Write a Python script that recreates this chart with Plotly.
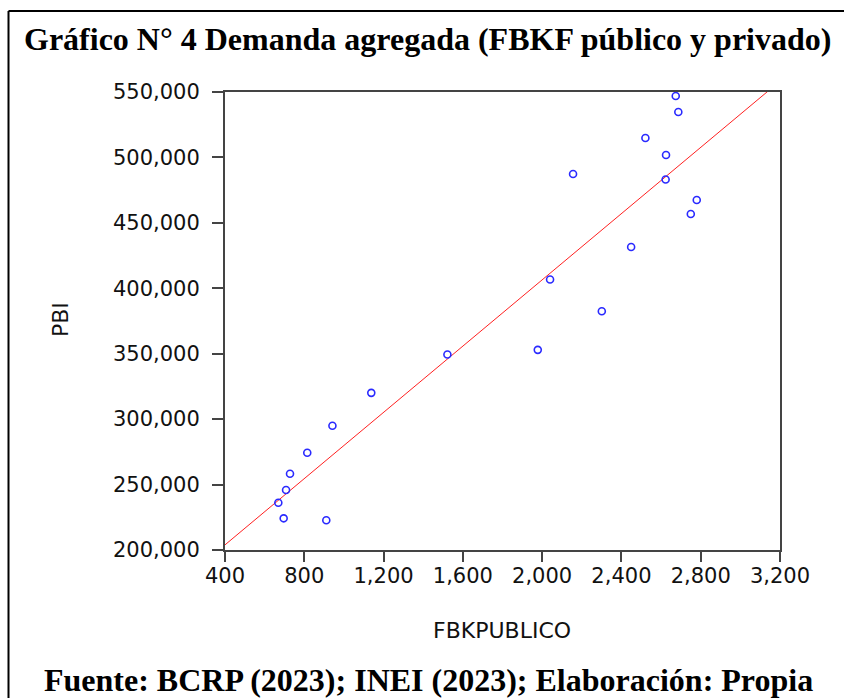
import numpy as np
import plotly.graph_objects as go

# Data
fbk_publico = [2674, 2687, 2521, 2625, 2156, 2623, 2780, 2750, 2449, 2040, 2301,
               1978, 1522, 1138, 942, 815, 728, 708, 669, 696, 911]
pbi = [546900, 534700, 514800, 501900, 487300, 483100, 467500, 456800, 431600,
       406700, 382500, 352950, 349400, 320100, 294900, 274300, 258300, 245800,
       236100, 224200, 222700]

x_ticks = [400, 800, 1200, 1600, 2000, 2400, 2800, 3200]
x_ticklabels = ["400", "800", "1,200", "1,600", "2,000", "2,400", "2,800", "3,200"]
y_ticks = [200000, 250000, 300000, 350000, 400000, 450000, 500000, 550000]
y_ticklabels = ["200,000", "250,000", "300,000", "350,000", "400,000",
                "450,000", "500,000", "550,000"]

title_text = "Gráfico N° 4 Demanda agregada (FBKF público y privado)"
source_text = "Fuente: BCRP (2023); INEI (2023); Elaboración: Propia"

# Regression line
slope, intercept = np.polyfit(fbk_publico, pbi, 1)
fit_x = [x_ticks[0], x_ticks[-1]]
fit_y = [intercept + slope * v for v in fit_x]

W, H = 844, 698
L, R, T, B = 225, 64, 92, 148
pw, ph = W - L - R, H - T - B

def px(xp):
    return (xp - L) / pw

def py(yp):
    return (H - B - yp) / ph

fig = go.Figure()
fig.add_trace(go.Scatter(x=fit_x, y=fit_y, mode="lines",
                         line=dict(color="#ff2020", width=1),
                         hoverinfo="skip", showlegend=False))
fig.add_trace(go.Scatter(x=fbk_publico, y=pbi, mode="markers",
                         marker=dict(symbol="circle-open", size=7,
                                     color="#2a2aff", line=dict(width=1.6)),
                         showlegend=False))

sans = "DejaVu Sans, Arial, sans-serif"
tick_font = dict(family=sans, size=21, color="#111111")
serif_bold = dict(family="Liberation Serif, Times New Roman, serif", size=32,
                  color="#000000", weight="bold")

fig.update_layout(
    width=W, height=H,
    margin=dict(l=L, r=R, t=T, b=B, pad=0),
    paper_bgcolor="white", plot_bgcolor="white",
    showlegend=False,
    xaxis=dict(range=[x_ticks[0], x_ticks[-1]], tickmode="array",
               tickvals=x_ticks, ticktext=x_ticklabels,
               ticks="outside", ticklen=10, tickwidth=1.5, tickcolor="#444444",
               showline=True, linecolor="#444444", linewidth=2, mirror=True,
               showgrid=False, zeroline=False, tickfont=tick_font,
               ticklabelstandoff=-4),
    yaxis=dict(range=[y_ticks[0], y_ticks[-1]], tickmode="array",
               tickvals=y_ticks, ticktext=y_ticklabels,
               ticks="outside", ticklen=11, tickwidth=1.5, tickcolor="#444444",
               showline=True, linecolor="#444444", linewidth=2, mirror=True,
               showgrid=False, zeroline=False, tickfont=tick_font,
               ticklabelstandoff=8),
    annotations=[
        dict(text=title_text, xref="paper", yref="paper", x=px(427), y=py(39),
             xanchor="center", yanchor="middle", showarrow=False, font=serif_bold),
        dict(text=source_text, xref="paper", yref="paper", x=px(428), y=py(680),
             xanchor="center", yanchor="middle", showarrow=False, font=serif_bold),
        dict(text="FBKPUBLICO", xref="paper", yref="paper", x=px(502), y=py(630),
             xanchor="center", yanchor="middle", showarrow=False,
             font=dict(family=sans, size=22, color="#111111")),
        dict(text="PBI", xref="paper", yref="paper", x=px(60), y=py(320),
             xanchor="center", yanchor="middle", showarrow=False, textangle=-90,
             font=dict(family=sans, size=22, color="#111111")),
    ],
    shapes=[
        dict(type="line", xref="paper", yref="paper",
             x0=px(8.5), x1=px(W + 5), y0=py(11), y1=py(11),
             line=dict(color="black", width=2)),
        dict(type="line", xref="paper", yref="paper",
             x0=px(8.5), x1=px(8.5), y0=py(11), y1=py(H + 5),
             line=dict(color="black", width=2)),
    ],
)

fig.write_html("out.html",
               config={"displayModeBar": False},
               post_script="document.body.style.margin='0px';"
                           "document.body.style.padding='0px';"
                           "document.documentElement.style.overflow='hidden';")
